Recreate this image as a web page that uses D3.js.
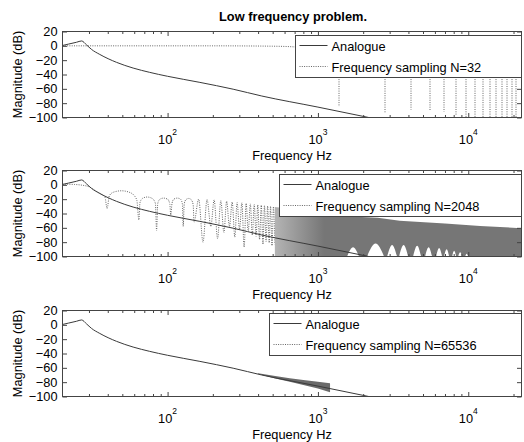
<!DOCTYPE html>
<html>
<head>
<meta charset="utf-8">
<script src="https://cdn.jsdelivr.net/npm/d3@7/dist/d3.min.js"></script>
<style>
  body { margin: 0; background: #fff; }
  svg text { font-family: "Liberation Sans", Arial, Helvetica, sans-serif; }
</style>
</head>
<body>
<svg id="chart" width="524" height="442"></svg>
<script>
// values (Hz, dB)
var analogFreq = [20, 22, 24.8, 26.8, 28.9, 31.2, 35.4, 45.7, 59, 76, 100, 164, 273, 423, 1000, 2178, 22050];
var analogDb = [0.5, 2.5, 5, 6.8, 1.3, -5, -12, -23, -31, -37, -42.5, -51, -60.5, -70, -85.5, -100, -141];

// N=32 : main lobe then notches at the bins
var fs32Freq = [20, 200, 500, 700, 1000, 1250];
var fs32Db = [0, 0, -0.5, -1.5, -8, -30];
var fs32NullFreq = [1378, 2756, 4134, 5513, 6891, 8269, 9647, 11025, 12403, 13781, 15159, 16538, 17916, 19294, 20672];
var fs32NullDb = [-85, -94, -89, -90, -92, -97, -102, -102, -102, -102, -102, -102, -102, -102, -102];

// N=2048 : separate lobes up to ~500 Hz
var fs2048Freq = [20, 24, 27, 30.4, 33.6, 36, 38.3, 39.6,
  41, 44, 49.4, 55, 60, 62.5, 64.4,
  65.5, 68, 73, 79, 83, 84.5,
  86, 89, 94, 100, 103.5, 105,
  107, 110, 116, 122, 125.5, 127,
  129, 132, 138, 144, 148, 150,
  161, 172, 183, 194, 204, 215, 226, 237, 247, 258, 269, 280, 290, 301,
  312, 323, 333, 344, 355, 366, 377, 388, 398, 409, 420, 431, 441, 452,
  463, 474, 484, 495, 506, 517];
var fs2048Db = [1, 0.5, -0.5, -3.2, -9, -13, -17, -33,
  -15, -10, -8.3, -10, -15, -22, -49,
  -25, -19, -17, -19, -26, -64,
  -26, -20, -18.5, -20, -27, -42,
  -26, -20, -18.5, -20, -27, -58,
  -27, -21, -19, -21, -28, -52,
  -20, -80, -20.5, -58, -21, -75, -22, -67, -23, -58, -24, -73, -24.5, -62,
  -25, -87, -26, -65, -26.5, -70, -27, -72, -28, -76, -28.5, -83, -29, -79,
  -29.5, -81, -30, -85, -30.5, -83];
// dense part above ~500 Hz : upper edge
var bandFreq = [517, 700, 1000, 1300, 2500, 3500, 7000, 12000, 22600];
var bandTopDb = [-31, -34, -38, -43, -46, -50, -54, -57.5, -60.5];
// white gaps along the bottom of the dense part
var archFrom = [1562, 2123, 2884, 3467, 4295, 5164, 6113, 6911, 7813, 8565, 9537];
var archMid = [1713, 2418, 3114, 3715, 4571, 5450, 6400, 7180, 8055, 8830, 9760];
var archTo = [1877, 2754, 3362, 3981, 4859, 5750, 6702, 7460, 8307, 9108, 9984];
var archDb = [-87, -82, -84, -84, -85, -87, -88, -90, -92, -94, -96];

// N=65536 : spread round the analogue curve
var wedgeFreq = [400, 520, 650, 800, 1000, 1204];
var wedgeTopDb = [-67.5, -71.5, -74.5, -77, -79.5, -81.5];
var wedgeLowDb = [-68.5, -75, -79.5, -84, -89, -94];

var yTicks = [-100, -80, -60, -40, -20, 0, 20];
var xMajor = [100, 1000, 10000];
var xExp = ["2", "3", "4"];
var xMinor = [30, 40, 50, 60, 70, 80, 90, 200, 300, 400, 500, 600, 700, 800, 900,
  2000, 3000, 4000, 5000, 6000, 7000, 8000, 9000, 20000];
var legendNames = ["Frequency sampling N=32", "Frequency sampling N=2048", "Frequency sampling N=65536"];

var svg = d3.select("#chart"),
    left = 62.5,
    width = 459,
    plotH = 86,
    tops = [31.5, 170.5, 310.5],
    legendX = [295.5, 279.5, 269.5],
    legendTop = [35.5, 174.5, 313.5],
    axisColor = "#444",
    dotColor = "#666";

var x = d3.scaleLog().domain([20, 22600]).range([0, width]);
var y = d3.scaleLinear().domain([-100, 20]).range([plotH, 0]);

var line = d3.line()
    .x(function(d) { return x(d[0]); })
    .y(function(d) { return y(d[1]); })
    .curve(d3.curveMonotoneX);

function pairs(a, b) { return a.map(function(v, i) { return [v, b[i]]; }); }

var analog = pairs(analogFreq, analogDb);

function drawAnalog(plot) {
  plot.append("path")
      .datum(analog)
      .attr("fill", "none")
      .attr("stroke", "#3a3a3a")
      .attr("stroke-width", 1)
      .attr("d", line);
}

function dotted(sel) {
  return sel.attr("fill", "none")
      .attr("stroke", dotColor)
      .attr("stroke-width", 1)
      .attr("stroke-dasharray", "1,1.3");
}

var content = [
  function(plot) {
    dotted(plot.append("path").datum(pairs(fs32Freq, fs32Db)).attr("d", line));
    dotted(plot.selectAll(".null").data(pairs(fs32NullFreq, fs32NullDb)).enter().append("line"))
        .attr("x1", function(d) { return Math.round(x(d[0])) + 0.5; })
        .attr("x2", function(d) { return Math.round(x(d[0])) + 0.5; })
        .attr("y1", y(-40))
        .attr("y2", function(d) { return y(d[1]); });
    drawAnalog(plot);
  },
  function(plot) {
    var grad = plot.append("linearGradient")
        .attr("id", "bandGrad")
        .attr("gradientUnits", "userSpaceOnUse")
        .attr("x1", x(517)).attr("x2", x(1100)).attr("y1", 0).attr("y2", 0);
    grad.append("stop").attr("offset", 0).attr("stop-color", "#b4b4b4");
    grad.append("stop").attr("offset", 1).attr("stop-color", "#767676");

    dotted(plot.append("path").datum(pairs(fs2048Freq, fs2048Db)).attr("d", line));

    plot.append("path")
        .datum(pairs(bandFreq, bandTopDb))
        .attr("fill", "url(#bandGrad)")
        .attr("d", d3.area()
            .x(function(d) { return x(d[0]); })
            .y0(y(-100))
            .y1(function(d) { return y(d[1]); }));

    var arch = d3.area()
        .x(function(d) { return x(d[0]); })
        .y0(y(-100) + 1)
        .y1(function(d) { return y(d[1]); })
        .curve(d3.curveMonotoneX);
    plot.selectAll(".arch")
        .data(archMid)
      .enter().append("path")
        .attr("fill", "#fff")
        .attr("d", function(d, i) {
          return arch([[archFrom[i], -100], [archMid[i], archDb[i]], [archTo[i], -100]]);
        });
    drawAnalog(plot);
  },
  function(plot) {
    plot.append("path")
        .datum(wedgeFreq.map(function(f, i) { return [f, wedgeTopDb[i], wedgeLowDb[i]]; }))
        .attr("fill", "#6a6a6a")
        .attr("d", d3.area()
            .x(function(d) { return x(d[0]); })
            .y0(function(d) { return y(d[2]); })
            .y1(function(d) { return y(d[1]); }));
    drawAnalog(plot);
  }
];

svg.append("text")
    .attr("x", left + width / 2 + 1)
    .attr("y", 20.7)
    .attr("text-anchor", "middle")
    .attr("font-size", 12.8)
    .attr("font-weight", "bold")
    .text("Low frequency problem.");

tops.forEach(function(top, i) {
  var g = svg.append("g").attr("transform", "translate(" + left + "," + top + ")");

  g.append("clipPath").attr("id", "clip" + i)
    .append("rect").attr("width", width).attr("height", plotH);
  var plot = g.append("g").attr("clip-path", "url(#clip" + i + ")");
  content[i](plot);

  function style(ax) {
    ax.select(".domain").remove();
    ax.selectAll("line").attr("stroke", axisColor);
    ax.attr("font-size", 12.8).selectAll("text").attr("fill", "#000");
  }

  g.append("g")
      .call(d3.axisLeft(y).tickValues(yTicks).tickSizeInner(-4.5).tickSizeOuter(0).tickPadding(5))
      .call(style);
  g.append("g")
      .attr("transform", "translate(" + width + ",0)")
      .call(d3.axisRight(y).tickValues(yTicks).tickSizeInner(-4.5).tickSizeOuter(0).tickFormat(""))
      .call(style);
  [[xMajor, 4.5], [xMinor, 2.5]].forEach(function(t) {
    g.append("g")
        .attr("transform", "translate(0," + plotH + ")")
        .call(d3.axisBottom(x).tickValues(t[0]).tickSizeInner(-t[1]).tickSizeOuter(0).tickFormat(""))
        .call(style);
    g.append("g")
        .call(d3.axisTop(x).tickValues(t[0]).tickSizeInner(-t[1]).tickSizeOuter(0).tickFormat(""))
        .call(style);
  });

  g.append("rect")
      .attr("width", width)
      .attr("height", plotH)
      .attr("fill", "none")
      .attr("stroke", axisColor);

  var lab = g.selectAll(".xlab")
      .data(xMajor)
    .enter().append("text")
      .attr("x", function(d) { return x(d); })
      .attr("y", plotH + 26.8)
      .attr("text-anchor", "middle")
      .attr("font-size", 12.8);
  lab.append("tspan").text("10");
  lab.append("tspan")
      .attr("font-size", 8.5)
      .attr("dy", -9.3)
      .text(function(d, j) { return xExp[j]; });

  g.append("text")
      .attr("x", width / 2)
      .attr("y", plotH + 42)
      .attr("text-anchor", "middle")
      .attr("font-size", 12.8)
      .text("Frequency Hz");

  g.append("text")
      .attr("transform", "translate(" + (22 - left) + "," + (plotH / 2) + ") rotate(-90)")
      .attr("text-anchor", "middle")
      .attr("font-size", 12.8)
      .text("Magnitude (dB)");

  // legend
  var lx = legendX[i] - left, ly = legendTop[i] - top, lw = left + width - legendX[i];
  var lg = g.append("g").attr("transform", "translate(" + lx + "," + ly + ")");
  lg.append("rect")
      .attr("width", lw)
      .attr("height", 42)
      .attr("fill", "#fff")
      .attr("stroke", axisColor);
  lg.append("line")
      .attr("x1", 4).attr("x2", 32).attr("y1", 10).attr("y2", 10)
      .attr("stroke", "#3a3a3a");
  dotted(lg.append("line"))
      .attr("x1", 4).attr("x2", 32).attr("y1", 31).attr("y2", 31);
  lg.selectAll(".ltxt")
      .data(["Analogue", legendNames[i]])
    .enter().append("text")
      .attr("x", 36)
      .attr("y", function(d, j) { return j ? 32 : 11.5; })
      .attr("dy", "0.35em")
      .attr("font-size", 12.8)
      .text(function(d) { return d; });
});
</script>
</body>
</html>
